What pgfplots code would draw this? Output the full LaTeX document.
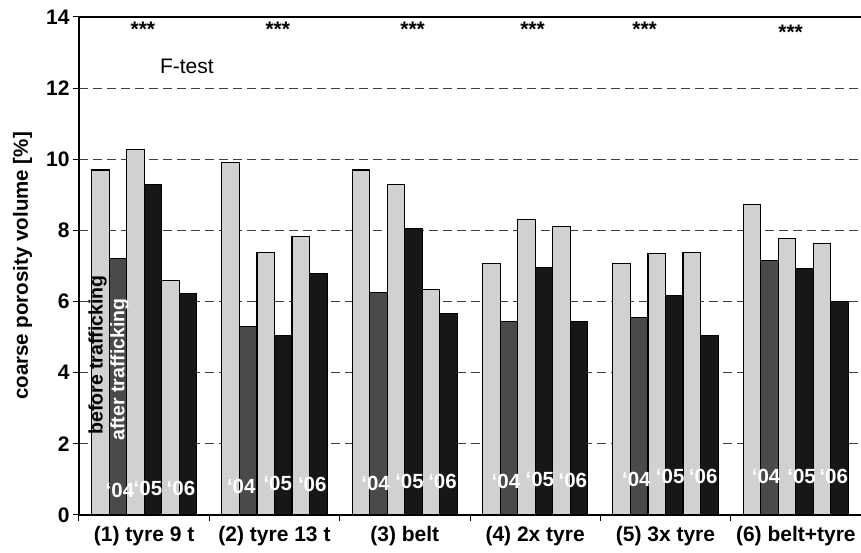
\documentclass[border=0pt]{standalone}
\usepackage{pgfplots}
\pgfplotsset{compat=1.18}
\usepackage{pgfplotstable}
\usepackage{fontspec}
\setmainfont{Liberation Sans}
\definecolor{lgray}{HTML}{D0D1D0}
\definecolor{dgray}{HTML}{4A4A4A}
\definecolor{blk}{HTML}{171717}
\newcommand\bq{\char"60\relax}
\pgfplotstableread{
x s1 s2 s3 s4 s5 s6
0.5 9.70 7.20 10.28 9.28 6.58 6.23
1.5 9.90 5.31 7.38 5.05 7.82 6.78
2.5 9.70 6.26 9.28 8.06 6.33 5.67
3.5 7.06 5.45 8.30 6.96 8.11 5.43
4.5 7.06 5.56 7.34 6.17 7.39 5.04
5.5 8.74 7.16 7.78 6.94 7.64 6.01
}\data
\begin{document}
\begin{tikzpicture}
\begin{axis}[
  scale only axis, width=782pt, height=498pt,
  xmin=0, xmax=6, ymin=0, ymax=14,
  axis lines=left,
  axis line style={-, black, line width=1.2pt},
  every outer x axis line/.append style={-},
  every outer y axis line/.append style={-},
  ybar=0pt, bar width=0.1345,
  xtick={0,1,2,3,4,5,6},
  x tick label as interval,
  xticklabels={(1) tyre 9 t,(2) tyre 13 t,(3) belt,(4) 2x tyre,(5) 3x tyre,(6) belt+tyre},
  xticklabel style={yshift=-2pt},
  ytick={0,2,4,6,8,10,12},
  extra y ticks={14},
  extra y tick style={major grid style={solid, black, line width=1.5pt}},
  ymajorgrids,
  major grid style={black!75, line width=1pt, dash pattern=on 9pt off 5pt},
  tick align=outside, major tick length=6pt,
  tick style={black, line width=1pt},
  /pgf/number format/assume math mode=true,
  ticklabel style={font=\bfseries\fontsize{21}{24}\selectfont},
  ylabel={coarse porosity volume [\%]},
  ylabel style={font=\bfseries\fontsize{20.5}{24}\selectfont, yshift=-5pt},
  every axis plot/.append style={draw=black, line width=1.1pt},
]
\addplot[fill=lgray] table[x=x,y=s1]{\data};
\addplot[fill=dgray] table[x=x,y=s2]{\data};
\addplot[fill=lgray] table[x=x,y=s3]{\data};
\addplot[fill=blk] table[x=x,y=s4]{\data};
\addplot[fill=lgray] table[x=x,y=s5]{\data};
\addplot[fill=blk] table[x=x,y=s6]{\data};
\begin{scope}[font=\bfseries\fontsize{21}{24}\selectfont]
\node at (axis cs:0.49,13.66) {***};
\node at (axis cs:1.525,13.66) {***};
\node at (axis cs:2.56,13.66) {***};
\node at (axis cs:3.48,13.66) {***};
\node at (axis cs:4.34,13.66) {***};
\node at (axis cs:5.46,13.57) {***};
\end{scope}
\node[font=\fontsize{21}{24}\selectfont] at (axis cs:0.828,12.6) {F-test};
\node[rotate=90, font=\bfseries\fontsize{19.5}{22}\selectfont, text=black] at (axis cs:0.142,4.5) {before trafficking};
\node[rotate=90, font=\bfseries\fontsize{19.5}{22}\selectfont, text=white] at (axis cs:0.31,4.09) {after trafficking};
\begin{scope}[font=\bfseries\fontsize{20.5}{22}\selectfont, text=white]
\node at (axis cs:0.314,0.70) {\bq04};
\node at (axis cs:0.529,0.76) {\bq05};
\node at (axis cs:0.782,0.76) {\bq06};
\node at (axis cs:1.245,0.80) {\bq04};
\node at (axis cs:1.525,0.90) {\bq05};
\node at (axis cs:1.790,0.85) {\bq06};
\node at (axis cs:2.276,0.90) {\bq04};
\node at (axis cs:2.536,0.93) {\bq05};
\node at (axis cs:2.789,0.93) {\bq06};
\node at (axis cs:3.276,0.93) {\bq04};
\node at (axis cs:3.536,1.00) {\bq05};
\node at (axis cs:3.789,0.97) {\bq06};
\node at (axis cs:4.276,1.00) {\bq04};
\node at (axis cs:4.536,1.07) {\bq05};
\node at (axis cs:4.789,1.07) {\bq06};
\node at (axis cs:5.272,1.07) {\bq04};
\node at (axis cs:5.544,1.07) {\bq05};
\node at (axis cs:5.791,1.07) {\bq06};
\end{scope}
\end{axis}
\pgfresetboundingbox
\path ([shift={(-79pt,-38pt)}]current axis.south west) rectangle ([shift={(0pt,17pt)}]current axis.north east);
\end{tikzpicture}
\end{document}
